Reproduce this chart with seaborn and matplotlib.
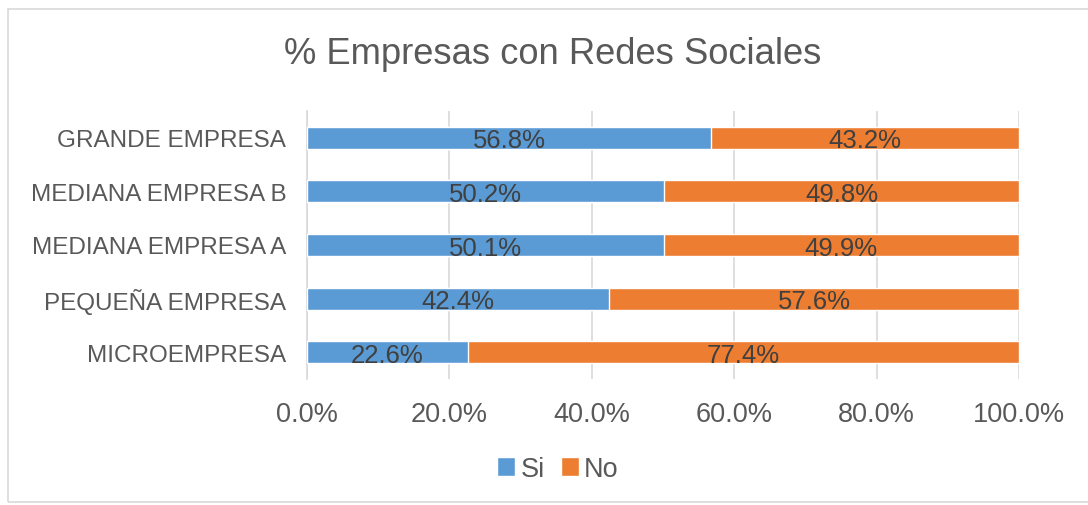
import matplotlib
matplotlib.use("Agg")
import matplotlib.pyplot as plt
import seaborn as sns
import pandas as pd
from matplotlib.patches import Rectangle, Patch

categories = ["GRANDE EMPRESA", "MEDIANA EMPRESA B", "MEDIANA EMPRESA A",
              "PEQUEÑA EMPRESA", "MICROEMPRESA"]
si_values = [56.8, 50.2, 50.1, 42.4, 22.6]
no_values = [43.2, 49.8, 49.9, 57.6, 77.4]
x_ticks = [0, 20, 40, 60, 80, 100]
title = "% Empresas con Redes Sociales"

BLUE = "#5B9BD5"
ORANGE = "#ED7D31"

sns.set_theme(style="white")
plt.rcParams["font.family"] = ["Liberation Sans", "DejaVu Sans"]

df = pd.DataFrame({"cat": categories, "Si": si_values, "No": no_values})
df["total"] = df["Si"] + df["No"]

fig = plt.figure(figsize=(10.88, 5.06), dpi=100)
ax = fig.add_axes([307/1088, 1 - 380/506, (1019-307)/1088, (380-112)/506])

sns.barplot(data=df, y="cat", x="total", order=categories, color=ORANGE,
            width=0.41, orient="h", ax=ax, saturation=1, zorder=3)
sns.barplot(data=df, y="cat", x="Si", order=categories, color=BLUE,
            width=0.41, orient="h", ax=ax, saturation=1, zorder=4)

for i, (s, n) in enumerate(zip(si_values, no_values)):
    ax.text(s / 2, i + 0.05, f"{s:.1f}%", ha="center", va="center",
            fontsize=18.5, color="#404040", zorder=5)
    ax.text(s + n / 2, i + 0.05, f"{n:.1f}%", ha="center", va="center",
            fontsize=18.5, color="#404040", zorder=5)

ax.set_xlim(0, 100)
ax.set_ylim(len(categories) - 0.5, -0.5)
ax.set_xticks(x_ticks)
ax.set_xticklabels([f"{t:.1f}%" for t in x_ticks], fontsize=19.5, color="#595959")
ax.set_yticks(range(len(categories)))
ax.set_yticklabels(categories, fontsize=17.5, color="#595959")
ax.set_xlabel("")
ax.set_ylabel("")
ax.xaxis.grid(True, color="#D9D9D9", linewidth=1.2, zorder=0)
ax.set_axisbelow(True)
for sp in ["top", "right", "bottom"]:
    ax.spines[sp].set_visible(False)
ax.spines["left"].set_color("#D9D9D9")
ax.spines["left"].set_linewidth(1.2)
ax.tick_params(axis="x", length=0, pad=16)
ax.tick_params(axis="y", length=0, pad=15)

fig.text(553/1088, 1 - 55/506, title, ha="center", va="center", fontsize=26.2,
         color="#595959")

handles = [Patch(facecolor=BLUE, label="Si"), Patch(facecolor=ORANGE, label="No")]
fig.legend(handles=handles, loc="center", bbox_to_anchor=(558/1088, 1 - 470/506),
           ncol=2, frameon=False, fontsize=19.5, handlelength=0.65, handleheight=0.7,
           handletextpad=0.2, columnspacing=0.6, labelcolor="#595959")

fig.patches.append(Rectangle((8/1088, 1 - 503/506), 1.0, (503-10)/506,
                             transform=fig.transFigure, fill=False,
                             edgecolor="#D9D9D9", linewidth=1.2))

fig.savefig("out.png", dpi=100)
